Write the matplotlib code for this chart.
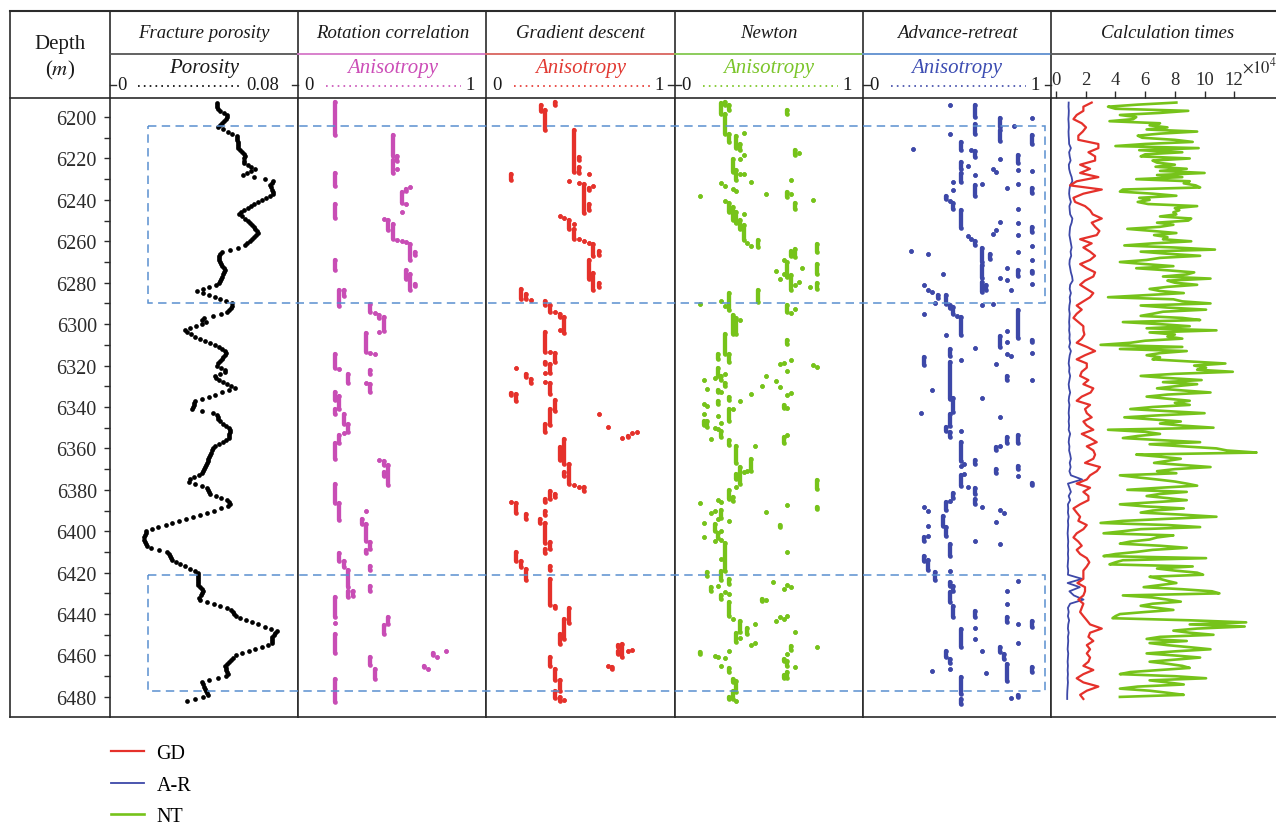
import numpy as np
import matplotlib.pyplot as plt
from matplotlib.lines import Line2D
from matplotlib.patches import Rectangle
from matplotlib.transforms import blended_transform_factory

plt.rcParams['font.family'] = ['Liberation Serif', 'DejaVu Serif']
plt.rcParams['mathtext.fontset'] = 'stix'

# ---------------- data ----------------
# fracture porosity, thousandths, one sample per metre from 6193 m
porosity_pm = [
    45.4, 45.5, 45.6, 45.7, 46.9, 48.3, 49.7, 49.8, 49.1, 48.4,
    47.6, 46.9, 46.1, 48.0, 50.0, 52.0, 53.9, 54.0, 54.1, 54.2,
    54.3, 54.4, 54.5, 55.1, 56.0, 56.8, 57.3, 57.1, 56.9, 56.9,
    58.5, 60.0, 61.6, 60.1, 58.4, 56.7, 61.3, 65.8, 69.4, 68.8,
    68.2, 68.4, 68.7, 69.1, 69.4, 68.1, 66.3, 64.5, 62.8, 61.3,
    59.9, 58.5, 57.1, 55.7, 54.9, 56.1, 57.4, 58.7, 59.5, 60.3,
    61.0, 61.8, 62.6, 62.8, 61.9, 61.1, 60.2, 59.3, 58.4, 57.5,
    54.4, 51.1, 47.8, 46.7, 46.5, 46.2, 46.3, 46.8, 47.3, 47.8,
    48.3, 48.8, 48.5, 48.1, 47.7, 47.2, 46.8, 46.4, 45.0, 42.2,
    39.4, 37.1, 39.6, 42.0, 44.5, 46.9, 49.3, 51.8, 52.0, 51.3,
    50.6, 49.9, 47.2, 43.6, 40.1, 39.2, 40.9, 38.9, 36.5, 34.1,
    31.7, 32.6, 34.4, 36.2, 38.2, 40.3, 42.4, 44.5, 46.2, 47.5,
    48.9, 49.4, 48.8, 48.1, 47.5, 46.8, 46.1, 45.5, 47.0, 48.8,
    48.7, 46.6, 44.7, 45.2, 46.3, 48.0, 49.7, 51.5, 53.2, 50.4,
    47.5, 44.7, 41.9, 39.0, 36.2, 35.9, 35.5, 35.2, 34.8, 39.2,
    43.6, 45.5, 45.7, 46.0, 46.6, 47.9, 49.1, 50.4, 51.0, 50.9,
    50.7, 50.5, 50.4, 49.5, 47.9, 46.4, 44.8, 43.8, 43.4, 43.0,
    42.6, 42.2, 41.8, 41.5, 41.1, 40.7, 40.3, 39.9, 39.5, 39.2,
    37.8, 35.8, 33.8, 33.7, 36.3, 39.0, 41.2, 41.7, 42.1, 42.6,
    44.9, 47.3, 49.6, 50.5, 50.9, 50.2, 47.3, 44.3, 41.3, 38.3,
    35.4, 32.4, 29.5, 26.5, 23.6, 20.6, 17.7, 15.5, 15.1, 14.8,
    14.4, 14.4, 14.9, 15.4, 15.9, 17.3, 20.7, 24.1, 25.1, 25.5,
    25.9, 26.2, 27.9, 29.9, 31.9, 34.0, 36.0, 37.6, 37.6, 37.6,
    37.6, 37.6, 37.6, 37.6, 38.2, 39.1, 39.5, 39.0, 38.5, 38.0,
    38.4, 41.3, 44.1, 46.9, 49.7, 51.5, 52.2, 52.9, 53.6, 55.2,
    57.8, 60.4, 63.0, 65.7, 68.3, 70.9, 70.2, 69.6, 68.9, 68.8,
    68.8, 68.8, 67.2, 64.4, 61.7, 59.0, 56.2, 53.5, 52.4, 51.5,
    50.6, 49.7, 48.9, 49.2, 49.5, 49.8, 50.1, 49.2, 45.7, 42.2,
    39.0, 39.5, 39.9, 40.3, 40.8, 41.2, 41.6, 39.7, 36.2, 32.6,
]

# anisotropy picks: (value, top depth, bottom depth)
rot_runs = [
    (0.195, 6192.8, 6208.9), (0.502, 6208.9, 6219.0), (0.525, 6219.0, 6221.0), (0.502, 6220.9, 6227.0),
    (0.525, 6225.0, 6225.0), (0.195, 6227.0, 6233.5), (0.596, 6233.8, 6233.8), (0.573, 6234.6, 6235.7),
    (0.550, 6236.2, 6241.5), (0.573, 6241.8, 6241.8), (0.550, 6245.9, 6245.9), (0.195, 6242.2, 6248.6),
    (0.454, 6249.2, 6249.2), (0.479, 6249.9, 6254.4), (0.502, 6251.5, 6258.7), (0.525, 6259.2, 6259.2),
    (0.550, 6260.0, 6260.0), (0.573, 6260.5, 6260.5), (0.596, 6261.1, 6269.2), (0.621, 6265.2, 6266.8),
    (0.195, 6269.2, 6274.0), (0.573, 6274.0, 6278.0), (0.596, 6275.6, 6283.4), (0.621, 6280.5, 6281.8),
    (0.218, 6283.7, 6291.0), (0.241, 6283.4, 6286.6), (0.383, 6290.4, 6294.2), (0.408, 6294.6, 6294.6),
    (0.431, 6295.8, 6296.9), (0.454, 6296.6, 6303.3), (0.431, 6303.8, 6303.8), (0.360, 6304.1, 6313.5),
    (0.383, 6314.0, 6314.0), (0.408, 6314.6, 6314.6), (0.195, 6314.6, 6321.0), (0.218, 6321.5, 6321.5),
    (0.266, 6324.0, 6328.4), (0.383, 6322.3, 6324.2), (0.360, 6328.4, 6328.4), (0.383, 6329.0, 6333.0),
    (0.195, 6332.8, 6336.5), (0.218, 6334.9, 6341.0), (0.195, 6341.0, 6343.4), (0.241, 6343.4, 6348.2),
    (0.266, 6348.2, 6352.3), (0.241, 6352.7, 6352.7), (0.218, 6353.4, 6357.6), (0.195, 6357.6, 6365.1),
    (0.431, 6365.5, 6365.5), (0.454, 6365.9, 6367.9), (0.479, 6368.0, 6377.5), (0.454, 6371.6, 6373.2),
    (0.195, 6377.2, 6386.5), (0.218, 6386.5, 6394.6), (0.360, 6390.4, 6390.4), (0.337, 6394.1, 6396.5),
    (0.360, 6396.5, 6404.6), (0.383, 6405.4, 6408.6), (0.360, 6409.1, 6410.7), (0.218, 6410.7, 6414.5),
    (0.241, 6414.5, 6417.1), (0.383, 6416.6, 6418.7), (0.266, 6418.7, 6426.8), (0.383, 6426.3, 6428.7),
    (0.266, 6429.0, 6431.6), (0.289, 6429.0, 6431.1), (0.195, 6431.6, 6441.6), (0.195, 6444.3, 6444.3),
    (0.479, 6441.6, 6444.8), (0.454, 6445.1, 6449.6), (0.195, 6449.6, 6459.0), (0.785, 6457.7, 6457.7),
    (0.715, 6459.0, 6459.6), (0.738, 6460.6, 6460.6), (0.383, 6460.9, 6464.4), (0.667, 6464.9, 6465.7),
    (0.691, 6466.5, 6466.5), (0.408, 6466.5, 6471.3), (0.195, 6471.3, 6482.6),
]

gd_runs = [
    (0.289, 6194.4, 6197.1), (0.363, 6192.8, 6194.4), (0.312, 6196.8, 6206.4), (0.466, 6206.4, 6226.6),
    (0.493, 6219.3, 6220.9), (0.493, 6224.1, 6227.0), (0.543, 6227.4, 6227.4), (0.133, 6227.7, 6230.6),
    (0.440, 6230.9, 6230.9), (0.493, 6231.9, 6231.9), (0.516, 6232.5, 6246.3), (0.543, 6234.1, 6235.1),
    (0.543, 6241.8, 6245.0), (0.569, 6233.5, 6233.5), (0.390, 6247.8, 6247.8), (0.413, 6248.9, 6248.9),
    (0.440, 6249.9, 6253.9), (0.466, 6251.5, 6251.5), (0.466, 6253.9, 6258.7), (0.493, 6258.9, 6258.9),
    (0.516, 6259.9, 6259.9), (0.543, 6260.8, 6260.8), (0.569, 6261.1, 6267.3), (0.596, 6264.7, 6266.8),
    (0.543, 6269.2, 6278.0), (0.569, 6275.3, 6283.4), (0.596, 6280.1, 6282.1), (0.183, 6282.9, 6287.7),
    (0.209, 6285.6, 6287.7), (0.236, 6288.5, 6288.5), (0.312, 6288.8, 6290.9), (0.339, 6290.9, 6294.1),
    (0.363, 6294.1, 6294.1), (0.390, 6295.3, 6296.6), (0.413, 6296.6, 6304.3), (0.390, 6303.0, 6303.0),
    (0.312, 6303.8, 6313.5), (0.339, 6313.5, 6313.5), (0.363, 6314.0, 6318.3), (0.312, 6318.3, 6319.4),
    (0.339, 6319.1, 6323.6), (0.158, 6321.0, 6321.0), (0.312, 6323.6, 6323.6), (0.209, 6324.2, 6325.5),
    (0.236, 6326.3, 6328.4), (0.312, 6328.1, 6328.1), (0.339, 6328.4, 6333.6), (0.133, 6333.3, 6334.4),
    (0.158, 6333.9, 6337.1), (0.363, 6336.8, 6341.8), (0.339, 6341.0, 6348.5), (0.312, 6348.2, 6352.3),
    (0.596, 6343.4, 6343.4), (0.644, 6349.5, 6349.5), (0.723, 6355.2, 6355.2), (0.750, 6353.9, 6354.7),
    (0.773, 6352.7, 6352.7), (0.800, 6352.3, 6352.3), (0.413, 6355.5, 6367.5), (0.390, 6359.2, 6365.6),
    (0.440, 6367.5, 6377.2), (0.413, 6371.6, 6373.2), (0.466, 6377.5, 6377.5), (0.493, 6378.8, 6378.8),
    (0.516, 6378.5, 6380.7), (0.339, 6380.7, 6384.4), (0.363, 6382.0, 6383.3), (0.312, 6384.4, 6386.0),
    (0.133, 6386.0, 6386.0), (0.158, 6386.5, 6391.4), (0.209, 6391.7, 6394.1), (0.312, 6390.1, 6392.0),
    (0.285, 6394.1, 6396.2), (0.312, 6396.2, 6405.8), (0.339, 6405.4, 6408.6), (0.312, 6408.6, 6410.7),
    (0.158, 6410.2, 6414.5), (0.183, 6414.2, 6417.1), (0.209, 6418.2, 6423.5), (0.339, 6416.6, 6418.7),
    (0.339, 6423.1, 6435.5), (0.363, 6436.0, 6437.1), (0.440, 6437.1, 6444.5), (0.413, 6442.4, 6452.0),
    (0.390, 6449.6, 6454.4), (0.697, 6454.8, 6456.1), (0.697, 6458.0, 6459.1), (0.723, 6454.5, 6460.6),
    (0.750, 6458.0, 6458.0), (0.773, 6457.3, 6457.3), (0.644, 6464.9, 6464.9), (0.670, 6465.7, 6466.5),
    (0.339, 6460.6, 6464.9), (0.363, 6466.5, 6471.8), (0.390, 6471.8, 6477.3), (0.363, 6477.3, 6480.5),
    (0.390, 6480.2, 6482.1), (0.413, 6481.5, 6481.5),
]

nt_runs = [
    (0.248, 6193.2, 6198.4), (0.270, 6192.8, 6194.4), (0.270, 6198.4, 6208.0), (0.289, 6194.4, 6196.8),
    (0.289, 6208.0, 6212.0), (0.599, 6196.5, 6198.7), (0.367, 6207.7, 6207.7), (0.328, 6209.3, 6214.8),
    (0.348, 6212.9, 6216.1), (0.638, 6215.8, 6218.5), (0.660, 6217.4, 6217.4), (0.367, 6218.5, 6218.5),
    (0.348, 6220.1, 6220.1), (0.310, 6220.1, 6226.6), (0.328, 6225.8, 6230.6), (0.348, 6227.7, 6227.7),
    (0.367, 6227.4, 6227.4), (0.408, 6231.4, 6231.4), (0.621, 6230.6, 6230.6), (0.248, 6231.9, 6231.9),
    (0.270, 6233.5, 6233.5), (0.310, 6234.6, 6234.6), (0.328, 6235.7, 6235.7), (0.135, 6238.3, 6238.3),
    (0.484, 6237.0, 6237.0), (0.599, 6236.2, 6238.6), (0.621, 6237.3, 6237.3), (0.736, 6239.9, 6239.9),
    (0.638, 6241.5, 6244.3), (0.270, 6240.6, 6240.6), (0.289, 6241.5, 6245.9), (0.310, 6243.5, 6249.6),
    (0.328, 6245.9, 6251.2), (0.367, 6246.7, 6246.7), (0.348, 6249.9, 6253.9), (0.367, 6252.3, 6259.6),
    (0.387, 6260.8, 6260.8), (0.408, 6262.5, 6262.5), (0.443, 6259.6, 6262.8), (0.755, 6261.1, 6265.2),
    (0.638, 6263.6, 6267.6), (0.621, 6264.7, 6267.3), (0.582, 6268.9, 6268.9), (0.599, 6270.0, 6277.3),
    (0.677, 6272.7, 6272.7), (0.755, 6270.8, 6275.6), (0.541, 6274.4, 6274.4), (0.562, 6278.0, 6278.0),
    (0.582, 6275.6, 6275.6), (0.621, 6276.4, 6283.4), (0.638, 6281.3, 6281.3), (0.660, 6279.7, 6279.7),
    (0.718, 6282.1, 6282.1), (0.755, 6280.1, 6282.9), (0.443, 6283.7, 6289.3), (0.289, 6285.0, 6293.4),
    (0.248, 6288.8, 6288.8), (0.135, 6290.1, 6290.1), (0.270, 6291.4, 6291.4), (0.599, 6290.9, 6294.2),
    (0.621, 6294.6, 6294.6), (0.638, 6292.6, 6292.6), (0.310, 6295.8, 6304.6), (0.328, 6296.9, 6305.0),
    (0.348, 6297.9, 6297.9), (0.270, 6305.0, 6314.3), (0.599, 6307.5, 6309.8), (0.230, 6314.3, 6316.7),
    (0.289, 6314.6, 6318.3), (0.270, 6323.9, 6323.9), (0.230, 6321.0, 6325.2), (0.213, 6325.9, 6325.9),
    (0.248, 6324.8, 6327.2), (0.270, 6328.4, 6330.0), (0.154, 6327.2, 6327.2), (0.174, 6331.2, 6331.2),
    (0.230, 6331.7, 6332.8), (0.248, 6332.8, 6332.8), (0.289, 6335.2, 6336.8), (0.348, 6337.1, 6337.1),
    (0.408, 6333.9, 6333.9), (0.466, 6330.0, 6330.0), (0.484, 6325.2, 6325.2), (0.541, 6327.5, 6327.5),
    (0.562, 6330.4, 6330.4), (0.599, 6334.4, 6334.4), (0.621, 6333.3, 6333.3), (0.562, 6319.1, 6319.1),
    (0.582, 6318.8, 6318.8), (0.599, 6322.6, 6322.6), (0.621, 6317.2, 6317.2), (0.736, 6319.9, 6319.9),
    (0.755, 6320.7, 6320.7), (0.230, 6337.1, 6338.4), (0.154, 6338.4, 6338.4), (0.174, 6339.7, 6339.7),
    (0.582, 6339.2, 6340.5), (0.599, 6340.5, 6340.5), (0.310, 6340.8, 6341.0), (0.289, 6341.0, 6346.6),
    (0.230, 6344.2, 6344.2), (0.154, 6343.4, 6343.4), (0.154, 6346.9, 6348.5), (0.174, 6346.6, 6349.8),
    (0.213, 6350.2, 6350.2), (0.230, 6350.6, 6350.6), (0.248, 6347.9, 6347.9), (0.248, 6351.4, 6354.3),
    (0.191, 6355.5, 6355.5), (0.289, 6356.0, 6358.2), (0.582, 6354.7, 6357.6), (0.599, 6353.4, 6353.4),
    (0.426, 6358.7, 6358.7), (0.328, 6358.7, 6367.2), (0.348, 6369.2, 6377.2), (0.408, 6365.1, 6370.8),
    (0.367, 6371.6, 6371.6), (0.387, 6370.8, 6370.8), (0.328, 6372.4, 6374.8), (0.328, 6378.8, 6378.8),
    (0.755, 6375.3, 6379.6), (0.289, 6380.1, 6384.4), (0.310, 6383.3, 6385.6), (0.230, 6384.9, 6384.9),
    (0.248, 6386.0, 6386.0), (0.135, 6386.5, 6386.5), (0.599, 6387.2, 6387.2), (0.755, 6388.2, 6389.3),
    (0.484, 6390.9, 6390.9), (0.191, 6391.4, 6391.4), (0.213, 6390.4, 6390.4), (0.248, 6389.8, 6393.6),
    (0.230, 6394.1, 6394.1), (0.289, 6395.2, 6395.2), (0.154, 6396.0, 6396.0), (0.213, 6396.5, 6400.1),
    (0.230, 6401.0, 6403.3), (0.248, 6400.1, 6400.1), (0.154, 6403.0, 6403.0), (0.213, 6404.9, 6404.9),
    (0.270, 6405.9, 6419.1), (0.248, 6404.3, 6404.3), (0.248, 6413.4, 6413.4), (0.562, 6396.8, 6397.8),
    (0.599, 6410.2, 6410.2), (0.174, 6419.9, 6421.5), (0.248, 6419.1, 6423.6), (0.289, 6423.1, 6425.5),
    (0.230, 6426.3, 6426.3), (0.191, 6427.1, 6429.0), (0.270, 6429.5, 6429.5), (0.248, 6430.6, 6432.7),
    (0.289, 6430.3, 6430.3), (0.523, 6424.7, 6424.7), (0.599, 6425.8, 6425.8), (0.621, 6426.8, 6426.8),
    (0.582, 6427.9, 6427.9), (0.466, 6432.7, 6433.9), (0.484, 6433.2, 6433.2), (0.289, 6434.4, 6440.8),
    (0.310, 6442.4, 6442.4), (0.348, 6443.5, 6448.8), (0.387, 6446.7, 6449.6), (0.426, 6444.8, 6444.8),
    (0.328, 6449.3, 6453.7), (0.348, 6451.6, 6451.6), (0.541, 6443.2, 6443.2), (0.562, 6441.6, 6441.6),
    (0.582, 6442.4, 6442.4), (0.599, 6440.8, 6440.8), (0.638, 6448.8, 6448.8), (0.408, 6454.8, 6454.8),
    (0.426, 6454.2, 6454.2), (0.621, 6455.3, 6457.4), (0.599, 6459.3, 6459.3), (0.755, 6456.1, 6456.1),
    (0.135, 6458.5, 6459.3), (0.213, 6460.1, 6460.1), (0.230, 6460.9, 6460.9), (0.270, 6461.2, 6461.2),
    (0.289, 6458.0, 6458.0), (0.248, 6464.9, 6464.9), (0.289, 6466.0, 6468.2), (0.582, 6461.7, 6462.9),
    (0.599, 6462.9, 6464.9), (0.638, 6465.4, 6465.4), (0.599, 6468.2, 6470.9), (0.582, 6469.3, 6470.9),
    (0.310, 6471.4, 6473.0), (0.328, 6472.2, 6477.8), (0.310, 6477.0, 6481.0), (0.289, 6479.9, 6481.0),
    (0.328, 6481.8, 6481.8),
]

ar_runs = [
    (0.461, 6194.4, 6194.4), (0.461, 6208.0, 6208.0), (0.594, 6194.4, 6200.0), (0.594, 6203.2, 6208.0),
    (0.727, 6200.3, 6204.8), (0.727, 6206.4, 6211.6), (0.803, 6204.5, 6204.5), (0.901, 6200.3, 6200.3),
    (0.901, 6208.9, 6212.9), (0.268, 6215.6, 6215.6), (0.520, 6212.1, 6215.8), (0.576, 6216.1, 6216.1),
    (0.594, 6216.4, 6219.3), (0.727, 6220.4, 6220.4), (0.824, 6218.5, 6222.2), (0.520, 6221.7, 6225.0),
    (0.559, 6223.8, 6223.8), (0.691, 6225.0, 6225.0), (0.709, 6226.6, 6226.6), (0.824, 6225.8, 6225.8),
    (0.901, 6226.1, 6226.1), (0.520, 6227.0, 6231.4), (0.594, 6228.2, 6228.2), (0.480, 6231.4, 6231.4),
    (0.480, 6235.4, 6235.4), (0.633, 6232.2, 6232.2), (0.594, 6233.0, 6238.3), (0.766, 6234.1, 6234.1),
    (0.824, 6232.5, 6232.5), (0.901, 6234.1, 6236.7), (0.443, 6238.3, 6239.4), (0.461, 6240.6, 6240.6),
    (0.480, 6241.5, 6244.3), (0.824, 6244.3, 6244.3), (0.520, 6245.0, 6253.4), (0.727, 6250.7, 6250.7),
    (0.709, 6254.7, 6254.7), (0.691, 6256.3, 6256.3), (0.824, 6251.2, 6251.2), (0.824, 6257.1, 6257.1),
    (0.901, 6253.1, 6255.5), (0.559, 6257.6, 6257.6), (0.576, 6258.7, 6258.7), (0.594, 6259.9, 6262.0),
    (0.254, 6264.7, 6264.7), (0.349, 6266.0, 6266.0), (0.633, 6263.1, 6270.0), (0.633, 6271.5, 6277.5),
    (0.633, 6279.5, 6284.5), (0.674, 6266.3, 6268.4), (0.824, 6265.2, 6265.2), (0.901, 6262.5, 6262.5),
    (0.901, 6268.9, 6268.9), (0.424, 6275.6, 6275.6), (0.766, 6272.7, 6272.7), (0.766, 6278.5, 6278.5),
    (0.727, 6277.6, 6277.6), (0.824, 6273.7, 6276.9), (0.901, 6274.4, 6275.3), (0.901, 6280.5, 6280.5),
    (0.652, 6281.3, 6283.4), (0.785, 6283.4, 6283.4), (0.324, 6281.0, 6281.0), (0.347, 6283.7, 6283.7),
    (0.367, 6284.5, 6284.5), (0.402, 6286.1, 6287.2), (0.443, 6286.1, 6290.1), (0.385, 6289.8, 6289.8),
    (0.633, 6290.9, 6290.9), (0.691, 6290.4, 6290.4), (0.461, 6290.9, 6292.0), (0.480, 6291.8, 6295.0),
    (0.502, 6296.3, 6296.3), (0.520, 6296.6, 6305.4), (0.324, 6295.0, 6295.0), (0.824, 6293.0, 6306.6),
    (0.766, 6303.3, 6303.3), (0.727, 6305.9, 6311.0), (0.766, 6308.6, 6308.6), (0.443, 6305.4, 6305.4),
    (0.901, 6307.5, 6308.6), (0.901, 6314.0, 6314.0), (0.594, 6311.4, 6311.4), (0.461, 6311.9, 6315.6),
    (0.324, 6315.9, 6319.9), (0.520, 6317.5, 6317.5), (0.766, 6314.3, 6314.3), (0.785, 6315.6, 6315.6),
    (0.709, 6319.1, 6319.1), (0.461, 6318.3, 6336.0), (0.766, 6325.2, 6326.8), (0.901, 6326.8, 6326.8),
    (0.367, 6332.0, 6332.0), (0.633, 6335.6, 6335.6), (0.480, 6335.6, 6342.6), (0.307, 6343.1, 6343.1),
    (0.461, 6343.4, 6349.0), (0.443, 6349.8, 6351.4), (0.461, 6352.3, 6354.3), (0.520, 6351.8, 6351.8),
    (0.727, 6344.7, 6344.7), (0.520, 6357.1, 6365.9), (0.537, 6367.5, 6367.5), (0.520, 6368.4, 6368.4),
    (0.824, 6353.4, 6357.6), (0.766, 6354.7, 6357.6), (0.727, 6358.7, 6358.7), (0.709, 6359.5, 6360.8),
    (0.594, 6365.6, 6367.5), (0.709, 6370.0, 6372.1), (0.824, 6368.4, 6370.0), (0.824, 6373.2, 6373.2),
    (0.520, 6372.7, 6378.0), (0.537, 6372.4, 6372.4), (0.559, 6378.5, 6378.5), (0.901, 6376.9, 6377.5),
    (0.594, 6379.1, 6382.0), (0.480, 6381.7, 6384.0), (0.461, 6385.3, 6385.3), (0.443, 6386.1, 6389.8),
    (0.594, 6384.4, 6386.9), (0.633, 6388.2, 6388.2), (0.324, 6388.5, 6388.5), (0.347, 6390.4, 6390.4),
    (0.727, 6389.8, 6389.8), (0.750, 6391.4, 6391.4), (0.709, 6395.7, 6395.7), (0.424, 6392.5, 6397.3),
    (0.443, 6397.8, 6402.2), (0.347, 6397.3, 6397.3), (0.324, 6403.0, 6404.6), (0.347, 6402.2, 6402.2),
    (0.461, 6406.2, 6411.8), (0.594, 6404.9, 6404.9), (0.727, 6406.2, 6406.2), (0.324, 6411.8, 6414.2),
    (0.347, 6413.9, 6418.7), (0.385, 6419.9, 6423.6), (0.461, 6419.1, 6419.1), (0.461, 6424.7, 6426.3),
    (0.480, 6426.3, 6428.7), (0.461, 6429.5, 6434.4), (0.480, 6436.0, 6441.6), (0.824, 6423.9, 6423.9),
    (0.766, 6429.0, 6429.0), (0.766, 6435.2, 6435.2), (0.766, 6441.3, 6444.0), (0.594, 6438.7, 6441.3),
    (0.824, 6444.8, 6444.8), (0.901, 6443.5, 6446.1), (0.594, 6446.7, 6446.7), (0.594, 6452.1, 6452.1),
    (0.520, 6447.2, 6456.1), (0.824, 6454.2, 6454.2), (0.633, 6457.7, 6457.7), (0.727, 6456.1, 6458.5),
    (0.750, 6459.3, 6461.7), (0.443, 6458.0, 6460.9), (0.461, 6461.7, 6463.8), (0.461, 6466.5, 6466.5),
    (0.367, 6467.4, 6467.4), (0.652, 6468.6, 6468.6), (0.766, 6464.1, 6472.5), (0.901, 6465.4, 6468.2),
    (0.520, 6470.2, 6478.6), (0.520, 6481.0, 6483.5), (0.785, 6480.5, 6480.5), (0.824, 6478.9, 6479.9),
]

# calculation times (x1e4): GD and A-R every 2 m, NT every 1 m, all from 6193 m
gd_time = [
    2.40, 1.84, 1.84, 1.39, 1.17, 1.73, 2.02, 1.80, 1.50, 1.50,
    2.85, 2.85, 2.18, 2.63, 2.63, 1.62, 2.29, 1.62, 2.85, 1.39,
    0.94, 3.08, 1.84, 1.17, 1.28, 1.95, 2.29, 2.47, 3.08, 2.40,
    2.63, 2.92, 2.74, 1.62, 2.40, 1.84, 2.29, 2.63, 2.29, 1.62,
    2.07, 2.63, 2.51, 1.95, 1.62, 2.07, 2.51, 2.29, 1.84, 1.39,
    1.73, 1.39, 1.17, 1.50, 1.84, 1.84, 1.91, 1.73, 1.39, 2.07,
    2.63, 1.95, 1.39, 2.07, 2.07, 1.73, 1.62, 2.18, 1.84, 2.51,
    2.33, 1.73, 1.39, 2.29, 1.95, 2.07, 2.40, 1.84, 2.07, 2.51,
    1.73, 2.29, 2.74, 2.07, 2.51, 2.63, 2.51, 1.95, 2.96, 2.74,
    2.29, 2.07, 1.39, 2.29, 1.84, 2.18, 2.18, 1.62, 1.17, 1.39,
    1.62, 1.50, 2.07, 1.84, 1.39, 1.17, 1.50, 1.73, 1.39, 1.62,
    2.07, 2.24, 2.07, 1.84, 1.84, 1.84, 1.44, 1.95, 1.95, 1.84,
    1.50, 1.84, 1.73, 1.62, 1.84, 2.07, 2.29, 3.08, 2.29, 2.18,
    2.51, 2.07, 2.29, 2.07, 2.29, 2.18, 1.84, 2.51, 1.84, 1.39,
    1.84, 2.85, 2.07, 1.62, 1.84,
]

ar_time = [
    0.85, 0.84, 0.86, 0.85, 0.83, 0.85, 0.86, 0.84, 0.85, 0.87,
    0.88, 1.00, 0.88, 0.92, 0.98, 0.86, 0.88, 0.95, 1.05, 1.10,
    0.95, 0.90, 0.88, 0.92, 1.00, 0.90, 0.92, 0.95, 1.10, 1.05,
    0.95, 0.92, 0.90, 0.95, 1.00, 1.05, 0.98, 1.02, 0.92, 0.90,
    0.95, 1.00, 1.08, 1.12, 0.95, 0.92, 1.00, 0.92, 0.95, 0.90,
    0.88, 0.92, 0.90, 0.88, 0.90, 0.88, 0.92, 0.90, 0.95, 0.88,
    1.00, 0.92, 0.88, 0.85, 0.90, 0.88, 0.95, 0.90, 0.85, 0.88,
    0.95, 0.88, 0.85, 0.90, 0.87, 0.85, 0.88, 0.85, 0.88, 0.85,
    0.95, 0.88, 0.85, 0.90, 0.88, 0.95, 1.00, 0.92, 0.98, 0.90,
    1.00, 1.75, 0.80, 0.90, 1.00, 0.85, 0.95, 0.80, 0.82, 0.80,
    0.85, 0.80, 0.82, 0.80, 0.78, 0.80, 0.82, 0.80, 0.82, 0.80,
    0.82, 0.80, 0.78, 0.82, 0.80, 1.75, 0.78, 1.60, 0.90, 1.20,
    1.85, 0.95, 0.80, 0.85, 0.80, 0.88, 0.82, 0.80, 0.85, 0.80,
    0.82, 0.80, 0.78, 0.82, 0.80, 0.78, 0.80, 0.78, 0.80, 0.78,
    0.80, 0.78, 0.76, 0.75, 0.75,
]

nt_time = [
    8.1, 5.5, 3.5, 4.0, 8.9, 7.0, 4.3, 5.4, 5.2, 3.6,
    7.0, 6.3, 7.5, 6.1, 9.5, 7.0, 5.5, 5.8, 8.0, 9.2,
    6.0, 4.0, 9.6, 5.6, 8.5, 6.0, 5.7, 9.0, 6.5, 6.8,
    8.0, 6.7, 8.8, 7.0, 10.0, 6.8, 8.5, 5.4, 9.0, 8.6,
    9.4, 9.7, 4.5, 4.3, 6.5, 8.1, 5.6, 6.3, 5.5, 6.2,
    9.5, 8.0, 8.3, 7.9, 8.1, 7.0, 9.1, 8.9, 6.8, 7.9,
    7.0, 4.8, 6.5, 8.1, 6.6, 7.5, 7.2, 9.1, 6.5, 4.6,
    8.0, 10.7, 5.7, 7.5, 9.7, 7.0, 6.1, 4.3, 6.0, 7.9,
    5.4, 7.5, 9.3, 8.8, 7.2, 10.4, 7.5, 8.0, 9.5, 7.5,
    6.3, 7.0, 8.6, 6.0, 3.5, 7.9, 8.5, 10.4, 5.7, 7.5,
    10.1, 7.2, 6.5, 5.7, 8.5, 9.7, 4.5, 7.0, 9.0, 6.1,
    10.8, 6.3, 8.0, 7.5, 8.5, 6.0, 5.0, 3.0, 8.5, 4.3,
    8.8, 7.0, 6.1, 7.0, 6.5, 9.0, 11.4, 9.3, 10.1, 9.5,
    11.9, 8.0, 5.7, 7.5, 9.8, 7.2, 9.5, 8.0, 6.8, 8.5,
    10.4, 7.5, 6.1, 7.5, 9.0, 8.0, 9.0, 6.5, 5.0, 7.5,
    10.0, 7.0, 4.6, 6.5, 8.4, 7.0, 8.5, 10.6, 3.5, 6.0,
    7.0, 5.5, 4.5, 7.0, 9.7, 6.3, 8.5, 10.8, 11.5, 13.5,
    5.4, 7.0, 8.4, 7.5, 6.6, 8.5, 10.4, 8.0, 6.8, 8.1,
    4.3, 5.5, 6.8, 8.0, 8.8, 9.5, 7.0, 4.8, 8.8, 7.0,
    6.1, 7.5, 8.8, 6.5, 4.3, 6.0, 8.6, 6.5, 5.7, 8.5,
    10.8, 7.5, 4.5, 3.0, 7.5, 9.7, 5.7, 4.5, 3.2, 7.9,
    6.8, 6.3, 5.0, 4.3, 7.0, 8.8, 6.5, 5.4, 4.0, 3.2,
    10.1, 4.5, 4.0, 3.6, 9.2, 6.8, 8.0, 9.5, 9.9, 6.3,
    7.0, 7.5, 8.1, 7.0, 5.9, 8.5, 10.5, 11.0, 4.5, 6.5,
    7.5, 8.4, 6.5, 5.7, 6.8, 7.9, 6.0, 4.3, 4.0, 3.8,
    9.0, 12.8, 9.0, 12.7, 9.5, 7.9, 9.0, 10.6, 7.0, 6.1,
    8.8, 6.3, 7.5, 9.0, 10.4, 8.0, 6.1, 8.0, 9.7, 8.0,
    6.3, 7.5, 8.5, 9.0, 7.0, 5.0, 4.3, 8.0, 10.1, 6.3,
    7.5, 8.6, 5.5, 4.3, 6.3, 7.5, 8.6, 4.3,
]

# intervals outlined across the tracks (top, bottom)
zone_top = [6204.5, 6421.0]
zone_bottom = [6290.0, 6477.3]

track_titles = ['Fracture porosity', 'Rotation correlation', 'Gradient descent', 'Newton', 'Advance-retreat']
track_units = ['Porosity', 'Anisotropy', 'Anisotropy', 'Anisotropy', 'Anisotropy']
track_max = [0.08, 1, 1, 1, 1]
track_max_label = ['0.08', '1', '1', '1', '1']
depth_ticks = np.arange(6200, 6481, 20)
time_ticks = np.arange(0, 13, 2)

# ---------------- styling ----------------
INK = '#2b2b2b'
MAGENTA, RED, GREEN, BLUE = '#c84db5', '#e5312b', '#76c31a', '#3d48a8'
track_colors = ['black', MAGENTA, RED, GREEN, BLUE]
rule_colors = ['#555555', '#d577c8', '#d9645e', '#83c84f', '#5f8fcf', '#555555']
unit_colors = ['#1a1a1a', '#cc4db7', '#e23a33', '#7bc52a', '#3d4db2']
ZONE_COLOR = '#5a8fd0'

W, H = 1276, 828
fig = plt.figure(figsize=(W / 100, H / 100), dpi=100)


def fx(px):
    return px / W


def fy(py):
    return 1 - py / H


def fig_line(x0, x1, y0, y1, color=INK, lw=1.2, **kw):
    fig.add_artist(Line2D([fx(x0), fx(x1)], [fy(y0), fy(y1)], color=color, lw=lw, **kw))


TOP, BOT = 99, 718
TABLE_TOP = 12
RULE_Y = 55
edges = [110, 298.2, 486.4, 674.6, 862.8, 1051]
depth_lim = (6489.7, 6190.8)

axes = []
for i in range(5):
    ax = fig.add_axes([fx(edges[i]), fy(BOT), fx(edges[i + 1]) - fx(edges[i]), (BOT - TOP) / H])
    ax.set_xlim(0, track_max[i])
    ax.set_ylim(*depth_lim)
    ax.set_xticks([])
    for s in ax.spines.values():
        s.set_color(INK)
        s.set_linewidth(1.2)
    if i == 0:
        ax.set_yticks(depth_ticks)
        ax.set_yticks(np.arange(6200, 6481, 10), minor=True)
        ax.tick_params(axis='y', which='both', direction='out', length=4.5, width=1,
                       colors=INK, labelsize=14.5, pad=5)
    else:
        ax.set_yticks([])
    axes.append(ax)

# porosity curve
por_ax = axes[0]
porosity = np.array(porosity_pm) / 1000
por_depth = 6193 + np.arange(len(porosity))
por_ax.plot(porosity, por_depth, 'o', ms=3.4, color='black', mec='none')

# anisotropy picks
for ax, runs, c in zip(axes[1:], [rot_runs, gd_runs, nt_runs, ar_runs], track_colors[1:]):
    for v, top, bot in runs:
        ax.plot([v, v], [top, bot], color=c, lw=3.1, solid_capstyle='round',
                marker='o', ms=3.3, mec='none')

# calculation times
calc_ax = fig.add_axes([fx(1051), fy(BOT), 1 - fx(1051), (BOT - TOP) / H])
gd_depth = 6193 + 2 * np.arange(len(gd_time))
ar_depth = 6193 + 2 * np.arange(len(ar_time))
nt_depth = 6193 + np.arange(len(nt_time))
ar_line, = calc_ax.plot(ar_time, ar_depth, color=BLUE, lw=1.3)
gd_line, = calc_ax.plot(gd_time, gd_depth, color=RED, lw=1.6)
nt_line, = calc_ax.plot(nt_time, nt_depth, color=GREEN, lw=1.9)
calc_ax.set_xlim(-0.34, 14.81)
calc_ax.set_ylim(*depth_lim)
calc_ax.set_yticks([])
calc_ax.xaxis.tick_top()
calc_ax.set_xticks(time_ticks)
calc_ax.tick_params(axis='x', direction='out', length=5, width=1, colors=INK,
                    labelsize=13.5, pad=2)
calc_ax.spines['right'].set_visible(False)
for s in calc_ax.spines.values():
    s.set_color(INK)
    s.set_linewidth(1.2)
fig.text(fx(1242), fy(67), r'$\times10^{4}$', fontsize=12, color=INK, ha='left', va='center')

# outlined intervals spanning the tracks
zone_tf = blended_transform_factory(fig.transFigure, por_ax.transData)
for top, bot in zip(zone_top, zone_bottom):
    fig.add_artist(Rectangle((fx(148), top), fx(1045) - fx(148), bot - top, transform=zone_tf,
                             fill=False, ec=ZONE_COLOR, lw=1.1, ls=(0, (5.5, 3.5)), zorder=5))

# ---------------- header table ----------------
fig_line(10, W, TABLE_TOP, TABLE_TOP, lw=1.5)
fig_line(10, 110, TOP, TOP)
fig_line(10, 110, BOT, BOT)
fig_line(10, 10, TABLE_TOP, BOT)
for x in edges:
    fig_line(x, x, TABLE_TOP, TOP)
col_bounds = edges + [W]
for i in range(6):
    fig_line(col_bounds[i], col_bounds[i + 1], RULE_Y, RULE_Y, color=rule_colors[i], lw=1.3)

fig.text(fx(60), fy(44), 'Depth', fontsize=15, ha='center', va='center', color='#1a1a1a')
fig.text(fx(60), fy(70), r'($\mathit{m}$)', fontsize=15, ha='center', va='center', color='#1a1a1a')

for i in range(5):
    left, right = edges[i], edges[i + 1]
    mid = (left + right) / 2
    fig.text(fx(mid), fy(34), track_titles[i], fontsize=13.5, style='italic',
             ha='center', va='center', color='#1a1a1a')
    fig.text(fx(mid), fy(69), track_units[i], fontsize=15, style='italic',
             ha='center', va='center', color=unit_colors[i])
    if i == 0:
        x0, x1, xl0, xl1 = left + 28, right - 58, left + 12, right - 36
    else:
        x0, x1, xl0, xl1 = left + 28, right - 25, left + 11, right - 16
    fig_line(x0, x1, 87, 87, color=track_colors[i], lw=1.2, ls=(0, (1, 2.5)))
    fig.text(fx(xl0), fy(86), '0', fontsize=13.5, ha='center', va='center', color='#1a1a1a')
    fig.text(fx(xl1), fy(86), track_max_label[i], fontsize=13.5, ha='center', va='center',
             color='#1a1a1a')
fig.text(fx(1168), fy(34), 'Calculation times', fontsize=13.5, style='italic',
         ha='center', va='center', color='#1a1a1a')

for x0, x1 in [(110, 116), (292, 298), (668, 681), (863, 870), (1045, 1051)]:
    fig_line(x0, x1, 86, 86, lw=1.0)

fig.legend(handles=[gd_line, ar_line, nt_line], labels=['GD', 'A-R', 'NT'],
           loc='upper left', bbox_to_anchor=(fx(111), fy(745)), frameon=False,
           fontsize=14.5, handlelength=1.65, handletextpad=0.6, labelspacing=0.62,
           borderpad=0, borderaxespad=0)

fig.savefig('out.png', dpi=100)
